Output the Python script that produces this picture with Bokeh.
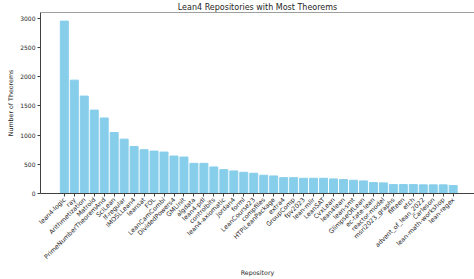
import math
from bokeh.plotting import figure
from bokeh.models import Range1d, FixedTicker, Span
from bokeh.embed import file_html
from bokeh.resources import INLINE

repos = ["lean4-logic", "ray", "Arithmetization", "Matroid", "PrimeNumberTheoremAnd",
         "SciLean", "lf-regular", "IMOSLLean4", "leansat", "FOL", "LeanCamCombi",
         "DividedPowers4", "GMLInit", "algdata", "lean4-pdl", "controlbits",
         "lean4-axiomatic", "Jordan4", "forml", "LeanCourse23", "compfiles",
         "HTPILeanPackage", "extra4", "GroupComp", "fpv2023", "lean-mlir", "LeanSAT",
         "CvxLean", "lean4lean", "lean-smt", "GlimpseOfLean", "ec-tate-lean",
         "reactor-model", "msri2023_graphs", "fifteen", "etch", "advent_of_lean_2022",
         "Carleson", "lean-math-workshop", "lean-regex"]
theorems = [2955, 1943, 1670, 1430, 1295, 1045, 932, 806, 750, 727, 710, 642, 625,
            517, 517, 455, 409, 387, 364, 347, 313, 301, 272, 272, 261, 261, 261,
            250, 239, 227, 216, 187, 182, 153, 153, 153, 148, 148, 148, 136]
y_ticks = [0, 500, 1000, 1500, 2000, 2500, 3000]

positions = list(range(len(repos)))
y_top = max(theorems) * 1.05

FONT = "DejaVu Sans"
TXT = "#262626"
AX = "#404040"

p = figure(width=474, height=279, output_backend="svg", toolbar_location=None,
           x_range=Range1d(-2.39, 41.14), y_range=Range1d(0, y_top),
           min_border_left=40, min_border_right=0, min_border_top=11,
           min_border_bottom=86, title="Lean4 Repositories with Most Theorems")
p.background_fill_color = "white"
p.border_fill_color = "white"
p.outline_line_color = None

p.title.text_font = FONT
p.title.text_font_size = "8px"
p.title.text_font_style = "normal"
p.title.text_color = TXT
p.title.align = "center"
p.title.standoff = 1

p.vbar(x=positions, top=theorems, width=0.8, fill_color="#87CEEB", line_color="#87CEEB")

p.xgrid.visible = False
p.ygrid.visible = False

for ax in (p.xaxis[0], p.yaxis[0]):
    ax.axis_line_color = AX
    ax.major_tick_line_color = AX
    ax.minor_tick_line_color = None
    ax.major_tick_out = 3
    ax.major_tick_in = 0
    ax.major_label_text_font = FONT
    ax.major_label_text_color = TXT
    ax.axis_label_text_font = FONT
    ax.axis_label_text_font_size = "6.3px"
    ax.axis_label_text_font_style = "normal"
    ax.axis_label_text_color = TXT
    ax.major_label_standoff = 2

p.yaxis[0].major_label_text_font_size = "6px"
p.yaxis[0].ticker = FixedTicker(ticks=y_ticks)
p.yaxis[0].axis_label = "Number of Theorems"
p.yaxis[0].axis_label_standoff = 3

p.xaxis[0].major_label_text_font_size = "6.3px"
p.xaxis[0].ticker = FixedTicker(ticks=positions)
p.xaxis[0].major_label_overrides = {i: n for i, n in zip(positions, repos)}
p.xaxis[0].major_label_orientation = math.pi / 4
p.xaxis[0].axis_label = "Repository"
p.xaxis[0].axis_label_standoff = 3

p.add_layout(Span(location=y_top, dimension="width", line_color=AX, line_width=1))

open("out.html", "w").write(file_html(p, INLINE))
